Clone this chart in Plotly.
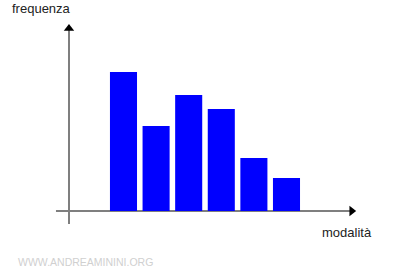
import plotly.graph_objects as go

categories = [1, 2, 3, 4, 5, 6]
frequenze = [13.9, 8.5, 11.6, 10.2, 5.3, 3.3]
y_label = "frequenza"
x_label = "modalità"
watermark = "WWW.ANDREAMININI.ORG"

W, H = 400, 270
# axis geometry in data units
x_min, x_max = -2.788, 9.482
y_min, y_max = -5.9, 21.1
yaxis_x = -0.672
xaxis_start, xaxis_end = -1.071, 8.05
yaxis_bottom, yaxis_top = -1.3, 18.1

fig = go.Figure()
fig.add_trace(go.Bar(x=categories, y=frequenze, marker=dict(color="#0000ff", line=dict(width=0)),
                     width=0.83, hoverinfo="skip"))

line_col = "#7f7f7f"
fig.add_shape(type="line", x0=yaxis_x, x1=yaxis_x, y0=yaxis_bottom, y1=yaxis_top,
              line=dict(color=line_col, width=2), layer="below")
fig.add_shape(type="line", x0=xaxis_start, x1=xaxis_end, y0=0, y1=0,
              line=dict(color=line_col, width=2), layer="below")

# arrow heads
fig.add_trace(go.Scatter(x=[yaxis_x], y=[18.25], mode="markers",
                         marker=dict(symbol="triangle-up", size=9, color="black"), hoverinfo="skip"))
fig.add_trace(go.Scatter(x=[8.0], y=[0], mode="markers",
                         marker=dict(symbol="triangle-right", size=9, color="black"), hoverinfo="skip"))

font_fam = "Liberation Sans, Arial, sans-serif"
fig.add_annotation(text=y_label, xref="paper", yref="paper", x=10 / W, y=1 - 8.5 / H,
                   xanchor="left", yanchor="middle", showarrow=False,
                   font=dict(family=font_fam, size=13, color="#222"))
fig.add_annotation(text=x_label, xref="paper", yref="paper", x=320 / W, y=1 - 232 / H,
                   xanchor="left", yanchor="middle", showarrow=False,
                   font=dict(family=font_fam, size=13, color="#222"))
fig.add_annotation(text=watermark, xref="paper", yref="paper", x=16 / W, y=1 - 262 / H,
                   xanchor="left", yanchor="middle", showarrow=False,
                   font=dict(family=font_fam, size=10.5, color="#d0d0d0"))

fig.update_layout(
    width=W, height=H, margin=dict(l=0, r=0, t=0, b=0),
    paper_bgcolor="white", plot_bgcolor="white", showlegend=False,
    xaxis=dict(range=[x_min, x_max], visible=False, fixedrange=True),
    yaxis=dict(range=[y_min, y_max], visible=False, fixedrange=True),
)
fig.write_html("out.html", config={"displayModeBar": False})
